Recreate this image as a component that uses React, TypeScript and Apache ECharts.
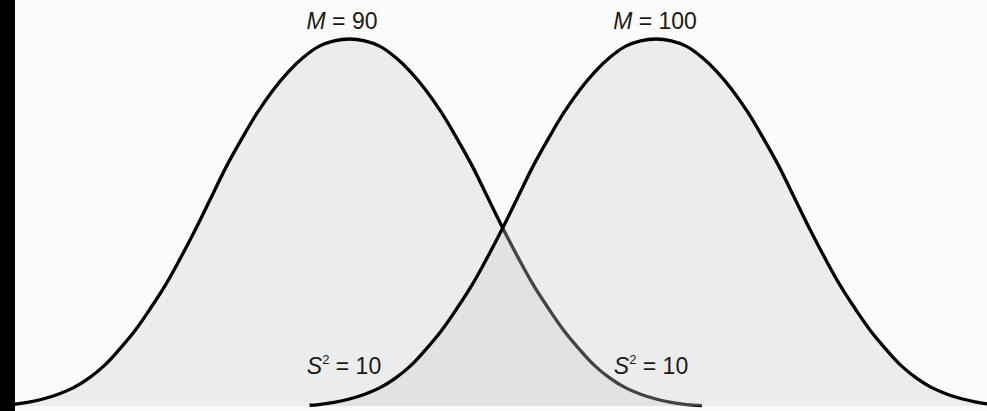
import React, { useEffect, useRef } from "react";
import * as echarts from "echarts";

// Left distribution (M = 90): [score, relative height]
const leftCurve: [number, number][] = [
  [79, 0.4], [79.5, 1.0], [80, 1.9], [80.5, 3.2], [81, 5.0], [81.5, 7.6], [82, 11], [82.5, 15.5],
  [83, 20.5], [83.5, 26.5], [84, 33], [84.5, 40.5], [85, 48.5], [85.5, 57], [86, 65.5], [86.5, 73],
  [87, 80], [87.5, 86], [88, 91], [88.5, 95], [89, 98], [89.5, 99.5], [90, 100], [90.5, 99.5],
  [91, 98], [91.5, 95], [92, 91], [92.5, 86], [93, 80], [93.5, 73], [94, 65.5], [94.5, 57],
  [95, 48.5], [95.5, 40.5], [96, 33], [96.5, 26.5], [97, 20.5], [97.5, 15.5], [98, 11], [98.5, 7.6],
  [99, 5.0], [99.5, 3.2], [100, 1.9], [100.5, 1.0], [101, 0.4], [101.5, 0.1],
];

// Right distribution (M = 100): [score, relative height]
const rightCurve: [number, number][] = [
  [88.7, 0.2], [89, 0.4], [89.5, 1.0], [90, 1.9], [90.5, 3.2], [91, 5.0], [91.5, 7.6], [92, 11],
  [92.5, 15.5], [93, 20.5], [93.5, 26.5], [94, 33], [94.5, 40.5], [95, 48.5], [95.5, 57], [96, 65.5],
  [96.5, 73], [97, 80], [97.5, 86], [98, 91], [98.5, 95], [99, 98], [99.5, 99.5], [100, 100],
  [100.5, 99.5], [101, 98], [101.5, 95], [102, 91], [102.5, 86], [103, 80], [103.5, 73], [104, 65.5],
  [104.5, 57], [105, 48.5], [105.5, 40.5], [106, 33], [106.5, 26.5], [107, 20.5], [107.5, 15.5],
  [108, 11], [108.5, 7.6], [109, 5.0], [109.5, 3.2], [110, 1.9], [110.5, 1.0], [110.8, 0.6],
];

const meanLabels = ["90", "100"];
const varianceLabels = ["10", "10"];

const FONT = "'Liberation Sans', Arial, Helvetica, sans-serif";

export default function App() {
  const ref = useRef<HTMLDivElement>(null);

  useEffect(() => {
    if (!ref.current) return;
    const chart = echarts.init(ref.current, undefined, { renderer: "svg" });

    const fill = "rgba(205,205,205,0.47)";
    const mainRich = {
      i: { fontFamily: FONT, fontSize: 23, fontStyle: "italic", fill: "#1a1a1a", lineHeight: 26 },
      n: { fontFamily: FONT, fontSize: 23, fill: "#1a1a1a", lineHeight: 26 },
      s: { fontFamily: FONT, fontSize: 13, fill: "#1a1a1a", lineHeight: 13, verticalAlign: "top" },
    };

    const meanText = (x: number, y: number, v: string) => ({
      type: "text",
      x,
      y,
      z: 100,
      style: {
        text: `{i|M}{n| = ${v}}`,
        rich: mainRich,
        align: "center",
        verticalAlign: "middle",
      },
    });
    const varText = (x: number, y: number, v: string) => ({
      type: "text",
      x,
      y,
      z: 100,
      style: {
        text: `{i|S}{s|2}{n| = ${v}}`,
        rich: mainRich,
        align: "center",
        verticalAlign: "middle",
      },
    });

    chart.setOption({
      animation: false,
      backgroundColor: "#fbfbfb",
      grid: { left: 0, right: 0, top: 39, bottom: 5 },
      xAxis: { type: "value", min: 78.6, max: 110.8, show: false },
      yAxis: { type: "value", min: 0, max: 100, show: false },
      series: [
        {
          type: "line",
          data: leftCurve,
          smooth: 0.4,
          showSymbol: false,
          clip: false,
          lineStyle: { color: "#000", width: 3.3 },
          areaStyle: { color: fill },
          z: 2,
        },
        {
          type: "line",
          data: rightCurve,
          smooth: 0.4,
          showSymbol: false,
          clip: false,
          lineStyle: { color: "#000", width: 3.3 },
          areaStyle: { color: fill },
          z: 3,
        },
      ],
      graphic: [
        { type: "rect", shape: { x: 0, y: 0, width: 15, height: 411 }, style: { fill: "#000" }, z: 100 },
        meanText(342, 21, meanLabels[0]),
        meanText(655, 21, meanLabels[1]),
        varText(344, 366, varianceLabels[0]),
        varText(651, 366, varianceLabels[1]),
      ],
    });

    return () => chart.dispose();
  }, []);

  return (
    <div
      ref={ref}
      style={{ position: "absolute", left: 0, top: 0, width: 987, height: 411 }}
    />
  );
}
